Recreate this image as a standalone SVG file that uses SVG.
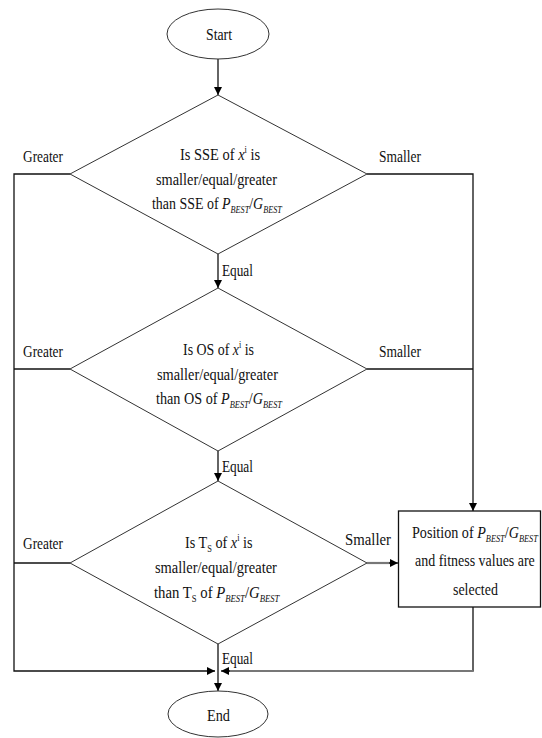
<svg xmlns="http://www.w3.org/2000/svg" width="542" height="738" viewBox="0 0 542 738">
  <defs>
    <marker id="arrow" viewBox="0 0 10 10" refX="10" refY="5" markerWidth="8" markerHeight="8" markerUnits="userSpaceOnUse" orient="auto">
      <path d="M0,0 L10,5 L0,10 z" fill="#000"/>
    </marker>
    <style>
      text { font-family: "Liberation Serif", "Times New Roman", serif; font-size: 17px; fill: #111; }
      .it { font-style: italic; }
      .sub { font-style: italic; font-size: 10px; }
      .sup { font-size: 10px; }
      .subs { font-size: 10px; }
      .shape { fill: #fff; stroke: #333; stroke-width: 1; }
      .box { fill: #fff; stroke: #111; stroke-width: 1.3; }
      .link { fill: none; stroke: #111; stroke-width: 1.3; }
      .soft { fill: none; stroke: #777; stroke-width: 2.2; }
    </style>
  </defs>

  <rect width="542" height="738" fill="#fff"/>

  <!-- connectors -->
  <g id="connectors">
    <line class="link" x1="218" y1="59" x2="218" y2="95" marker-end="url(#arrow)"/>
    <line class="link" x1="218" y1="254" x2="218" y2="288" marker-end="url(#arrow)"/>
    <line class="link" x1="218" y1="451" x2="218" y2="481" marker-end="url(#arrow)"/>
    <line class="link" x1="218" y1="644" x2="218" y2="691" marker-end="url(#arrow)"/>
    <!-- greater branches -->
    <polyline class="link" points="70,174 14,174 14,671 215,671" marker-end="url(#arrow)"/>
    <line class="link" x1="14" y1="369" x2="70" y2="369"/>
    <line class="link" x1="14" y1="563" x2="70" y2="563"/>
    <!-- smaller branches -->
    <polyline class="link" points="367,174 473,174 473,511" marker-end="url(#arrow)"/>
    <line class="link" x1="367" y1="369" x2="473" y2="369"/>
    <line class="soft" x1="367" y1="563" x2="390" y2="563"/>
    <line class="link" x1="389" y1="563" x2="398" y2="563" marker-end="url(#arrow)"/>
    <!-- return from selection box -->
    <polyline class="link" points="473,607 473,671 460,671"/>
    <line class="soft" x1="473" y1="671" x2="228" y2="671"/>
    <line class="link" x1="230" y1="671" x2="221" y2="671" marker-end="url(#arrow)"/>

    <text transform="translate(23,162) scale(0.785,1)">Greater</text>
    <text transform="translate(379,162) scale(0.794,1)">Smaller</text>
    <text transform="translate(222,276) scale(0.78,1)">Equal</text>
    <text transform="translate(23,357) scale(0.785,1)">Greater</text>
    <text transform="translate(379,357) scale(0.794,1)">Smaller</text>
    <text transform="translate(222,472) scale(0.78,1)">Equal</text>
    <text transform="translate(23,549) scale(0.785,1)">Greater</text>
    <text transform="translate(345,545) scale(0.87,1)">Smaller</text>
    <text transform="translate(222,664) scale(0.78,1)">Equal</text>
  </g>

  <!-- start terminal -->
  <g id="start">
    <ellipse class="shape" cx="218" cy="34" rx="51" ry="25"/>
    <text transform="translate(206,40) scale(0.81,1)">Start</text>
  </g>

  <!-- SSE comparison -->
  <g id="check-sse">
    <polygon class="shape" points="218,95 367,174 218,254 70,174"/>
    <text transform="translate(180,160) scale(0.85,1)">Is SSE of <tspan class="it">x</tspan><tspan class="sup" dy="-7">i</tspan><tspan dy="7"> is</tspan></text>
    <text transform="translate(156,184.5) scale(0.843,1)">smaller/equal/greater</text>
    <text transform="translate(152,209) scale(0.82,1)">than SSE of <tspan class="it">P</tspan><tspan class="sub" dy="4">BEST</tspan><tspan dy="-4">/</tspan><tspan class="it">G</tspan><tspan class="sub" dy="4">BEST</tspan></text>
  </g>

  <!-- OS comparison -->
  <g id="check-os">
    <polygon class="shape" points="218,288 367,369 218,451 70,369"/>
    <text transform="translate(183,355) scale(0.818,1)">Is OS of <tspan class="it">x</tspan><tspan class="sup" dy="-7">i</tspan><tspan dy="7"> is</tspan></text>
    <text transform="translate(157,379.5) scale(0.843,1)">smaller/equal/greater</text>
    <text transform="translate(156,404) scale(0.835,1)">than OS of <tspan class="it">P</tspan><tspan class="sub" dy="4">BEST</tspan><tspan dy="-4">/</tspan><tspan class="it">G</tspan><tspan class="sub" dy="4">BEST</tspan></text>
  </g>

  <!-- Ts comparison -->
  <g id="check-ts">
    <polygon class="shape" points="218,481 367,563 218,644 70,563"/>
    <text transform="translate(185,548) scale(0.836,1)">Is T<tspan class="subs" dy="4">S</tspan><tspan dy="-4"> of </tspan><tspan class="it">x</tspan><tspan class="sup" dy="-7">i</tspan><tspan dy="7"> is</tspan></text>
    <text transform="translate(155,573) scale(0.85,1)">smaller/equal/greater</text>
    <text transform="translate(154,598) scale(0.867,1)">than T<tspan class="subs" dy="4">S</tspan><tspan dy="-4"> of </tspan><tspan class="it">P</tspan><tspan class="sub" dy="4">BEST</tspan><tspan dy="-4">/</tspan><tspan class="it">G</tspan><tspan class="sub" dy="4">BEST</tspan></text>
  </g>

  <!-- selection result -->
  <g id="select">
    <rect class="box" x="398.5" y="511" width="142" height="96"/>
    <text transform="translate(412,538) scale(0.832,1)">Position of <tspan class="it">P</tspan><tspan class="sub" dy="4">BEST</tspan><tspan dy="-4">/</tspan><tspan class="it">G</tspan><tspan class="sub" dy="4">BEST</tspan></text>
    <text transform="translate(415,566) scale(0.822,1)">and fitness values are</text>
    <text transform="translate(453,595) scale(0.82,1)">selected</text>
  </g>

  <!-- end terminal -->
  <g id="end">
    <ellipse class="shape" cx="218" cy="714" rx="50" ry="23"/>
    <text transform="translate(207,721) scale(0.84,1)">End</text>
  </g>
</svg>
